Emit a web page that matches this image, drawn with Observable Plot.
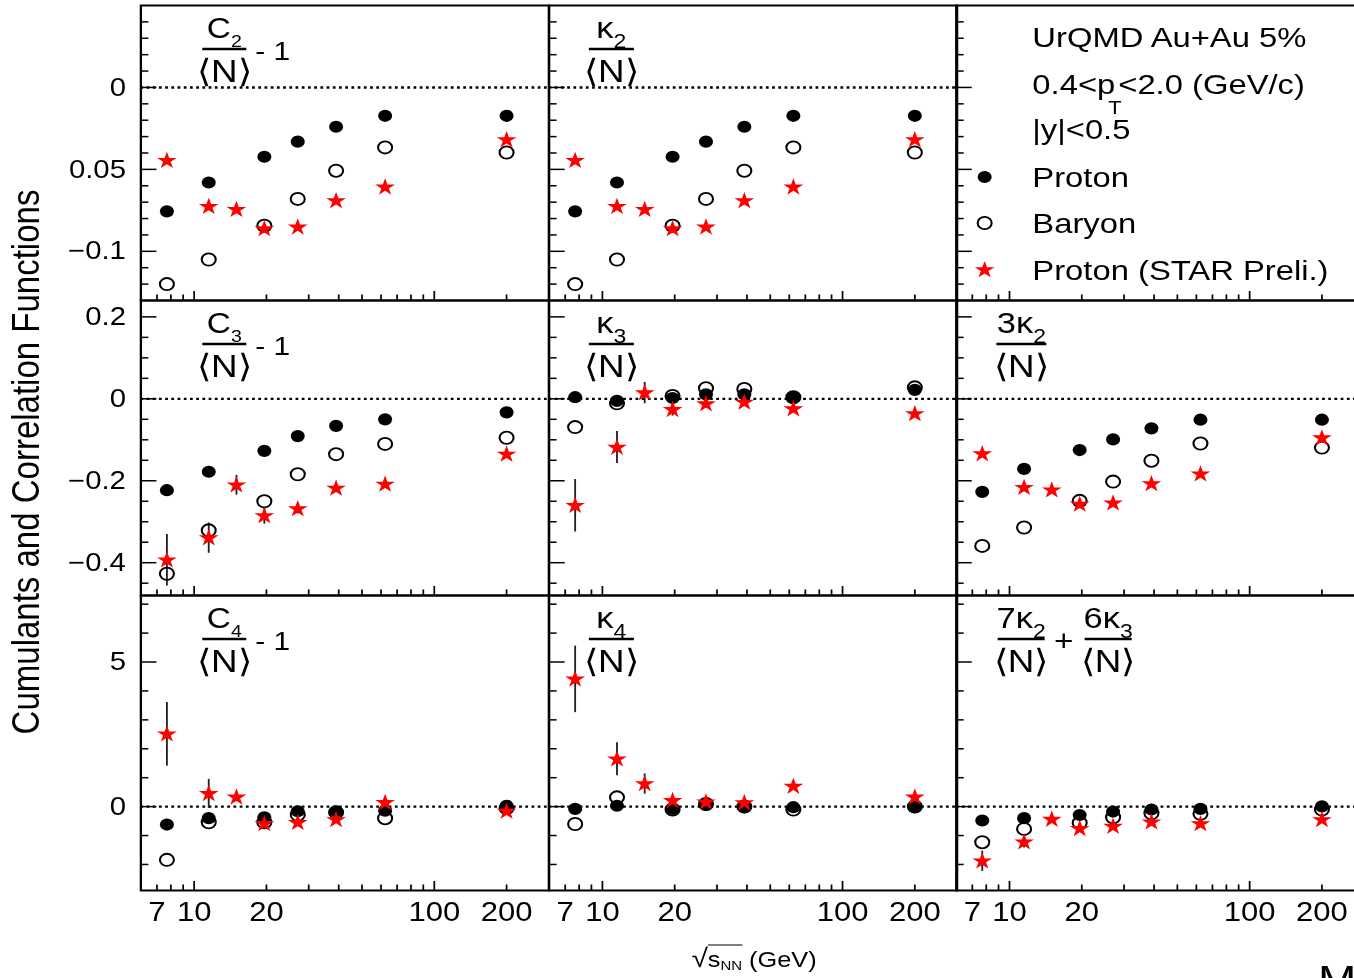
<!DOCTYPE html>
<html>
<head>
<meta charset="utf-8">
<script src="https://cdn.jsdelivr.net/npm/d3@7"></script>
<script src="https://cdn.jsdelivr.net/npm/@observablehq/plot@0.6"></script>
<style>
html, body { margin: 0; padding: 0; background: #fff; overflow: hidden; }
#wrap { position: relative; width: 1354px; height: 978px; overflow: hidden; background: #fff; }
#stage { position: absolute; left: 0; top: 0; width: 1200px; height: 978px; transform: scaleX(1.15); transform-origin: 0 0;
  font-family: "Liberation Sans", Arial, Helvetica, sans-serif; color: #000; }
.panel { position: absolute; }
.ytitle { position: absolute; white-space: nowrap; font-size: 33px; transform: translate(-50%, -50%) rotate(-90deg); }
.xtitle { position: absolute; white-space: nowrap; font-size: 22px; transform: translate(-50%, -50%); }
.xtitle .sq { font-size: 26px; }
.xtitle .ol { border-top: 1.6px solid #000; padding-top: 1px; }
.xtitle sub { font-size: 13px; vertical-align: -3px; }
.stray { position: absolute; font-size: 40px; line-height: 40px; white-space: nowrap; }
</style>
</head>
<body>
<div id="wrap"><div id="stage"></div></div>
<script>
// ---------------- data ----------------
const energies = [7.7, 11.5, 19.6, 27, 39, 62.4, 200];
const starEnergies = [7.7, 11.5, 15, 19.6, 27, 39, 62.4, 200];

// row 1: C2/<N> - 1  and  kappa2/<N>
const protonC2 = [-0.0756, -0.058, -0.0423, -0.0331, -0.024, -0.0173, -0.0173];
const baryonC2 = [-0.120, -0.105, -0.0844, -0.068, -0.0508, -0.0366, -0.0397];
const starC2 = [-0.0447, -0.0728, -0.0746, -0.0864, -0.0854, -0.0693, -0.061, -0.0321];
const starC2Err = [0.002, 0.002, 0.002, 0.002, 0.002, 0.002, 0.002, 0.002];

const protonK2 = [-0.0756, -0.058, -0.0423, -0.0331, -0.024, -0.0173, -0.0173];
const baryonK2 = [-0.120, -0.105, -0.0844, -0.068, -0.0508, -0.0366, -0.0397];
const starK2 = [-0.0447, -0.0728, -0.0746, -0.0864, -0.0854, -0.0693, -0.061, -0.0321];
const starK2Err = [0.002, 0.002, 0.002, 0.002, 0.002, 0.002, 0.002, 0.002];

// row 2: C3/<N> - 1, kappa3/<N>, 3 kappa2/<N>
const protonC3 = [-0.223, -0.178, -0.127, -0.091, -0.066, -0.050, -0.033];
const baryonC3 = [-0.427, -0.321, -0.250, -0.184, -0.135, -0.110, -0.095];
const starC3 = [-0.394, -0.340, -0.211, -0.286, -0.269, -0.219, -0.209, -0.136];
const starC3Err = [0.063, 0.037, 0.024, 0.02, 0.012, 0.01, 0.01, 0.008];

const protonK3 = [0.004, -0.005, 0.002, 0.011, 0.011, 0.003, 0.022];
const baryonK3 = [-0.069, -0.011, 0.007, 0.026, 0.024, 0.004, 0.028];
const starK3 = [-0.261, -0.119, 0.014, -0.027, -0.013, -0.009, -0.025, -0.037];
const starK3Err = [0.064, 0.039, 0.026, 0.015, 0.01, 0.008, 0.008, 0.006];

const proton3K2 = [-0.227, -0.171, -0.125, -0.099, -0.072, -0.051, -0.051];
const baryon3K2 = [-0.359, -0.314, -0.249, -0.202, -0.151, -0.109, -0.119];
const star3K2 = [-0.135, -0.217, -0.223, -0.258, -0.255, -0.208, -0.184, -0.096];
const star3K2Err = [0.006, 0.006, 0.006, 0.005, 0.005, 0.005, 0.005, 0.005];

// row 3: C4/<N> - 1, kappa4/<N>, 7 kappa2/<N> + 6 kappa3/<N>
const protonC4 = [-0.62, -0.40, -0.37, -0.16, -0.16, -0.14, 0.03];
const baryonC4 = [-1.84, -0.54, -0.54, -0.28, -0.20, -0.40, -0.05];
const starC4 = [2.5, 0.44, 0.32, -0.60, -0.56, -0.46, 0.13, -0.17];
const starC4Err = [1.1, 0.5, 0.15, 0.15, 0.1, 0.1, 0.08, 0.05];

const protonK4 = [-0.08, 0.03, -0.08, 0.06, -0.02, -0.02, -0.02];
const baryonK4 = [-0.60, 0.32, -0.10, 0.09, 0.0, -0.10, 0.0];
const starK4 = [4.4, 1.64, 0.78, 0.20, 0.15, 0.12, 0.69, 0.32];
const starK4Err = [1.15, 0.57, 0.35, 0.15, 0.1, 0.1, 0.08, 0.05];

const protonComb = [-0.48, -0.40, -0.29, -0.17, -0.10, -0.08, 0.01];
const baryonComb = [-1.23, -0.77, -0.56, -0.37, -0.23, -0.25, -0.10];
const starComb = [-1.89, -1.23, -0.45, -0.77, -0.69, -0.54, -0.60, -0.46];
const starCombErr = [0.35, 0.2, 0.08, 0.08, 0.06, 0.05, 0.05, 0.04];

// ticks
const xTickLabels = [7, 10, 20, 100, 200];
const xMajorTicks = [10, 100];
const xMinorTicks = [7, 8, 9, 20, 30, 40, 50, 60, 70, 80, 90, 200];
const xDomain = [6, 300];

const row1Domain = [-0.13, 0.05];
const row1Major = [0, -0.05, -0.1];
const row1Labels = ["0", "0.05", "\u22120.1"];
const row1Minor = [0.04, 0.03, 0.02, 0.01, -0.01, -0.02, -0.03, -0.04, -0.06, -0.07, -0.08, -0.09, -0.11, -0.12];

const row2Domain = [-0.48, 0.24];
const row2Major = [0.2, 0, -0.2, -0.4];
const row2Labels = ["0.2", "0", "\u22120.2", "\u22120.4"];
const row2Minor = [0.15, 0.1, 0.05, -0.05, -0.1, -0.15, -0.25, -0.3, -0.35, -0.45];

const row3Domain = [-2.9, 7.3];
const row3Major = [5, 0];
const row3Labels = ["5", "0"];
const row3Minor = [7, 6, 4, 3, 2, 1, -1, -2];

const legendHeader = ["UrQMD Au+Au 5%", "0.4<p", "T", "<2.0 (GeV/c)", "|y|<0.5"];
const legendNames = ["Proton", "Baryon", "Proton (STAR Preli.)"];
const yTitle = "Cumulants and Correlation Functions";

// ---------------- layout ----------------
const S = 1.15;               // horizontal stretch of the original picture
const PW = 408 / S, PH = 295;
const X0 = 140 / S, Y0 = 5;
const FONT = "'Liberation Sans', Arial, Helvetica, sans-serif";
const R_DOT = 6.1, R_STAR = 5.4;

const rows = [
  {domain: row1Domain, major: row1Major, labels: row1Labels, minor: row1Minor},
  {domain: row2Domain, major: row2Major, labels: row2Labels, minor: row2Minor},
  {domain: row3Domain, major: row3Major, labels: row3Labels, minor: row3Minor}
];

const C = (n) => ({type: "C", n});
const K = (pre, n) => ({type: "K", pre, n});
const panels = [
  {row: 0, col: 0, proton: protonC2, baryon: baryonC2, star: starC2, err: starC2Err, label: C("2")},
  {row: 0, col: 1, proton: protonK2, baryon: baryonK2, star: starK2, err: starK2Err, label: K("", "2")},
  {row: 0, col: 2, legend: true},
  {row: 1, col: 0, proton: protonC3, baryon: baryonC3, star: starC3, err: starC3Err, label: C("3")},
  {row: 1, col: 1, proton: protonK3, baryon: baryonK3, star: starK3, err: starK3Err, label: K("", "3")},
  {row: 1, col: 2, proton: proton3K2, baryon: baryon3K2, star: star3K2, err: star3K2Err, label: K("3", "2")},
  {row: 2, col: 0, proton: protonC4, baryon: baryonC4, star: starC4, err: starC4Err, label: C("4")},
  {row: 2, col: 1, proton: protonK4, baryon: baryonK4, star: starK4, err: starK4Err, label: K("", "4")},
  {row: 2, col: 2, proton: protonComb, baryon: baryonComb, star: starComb, err: starCombErr, label: {type: "comb"}}
];

const stage = document.getElementById("stage");

function buildPanel(p) {
  const rd = rows[p.row];
  const marks = [];
  if (!p.legend) marks.push(Plot.ruleY([0], {stroke: "#000", strokeWidth: 2.4, strokeDasharray: "2.4,3"}));
  marks.push(Plot.axisX({ticks: xMinorTicks, anchor: "bottom", tickSize: -5.5, tickFormat: () => "", label: null, strokeWidth: 1.5}));
  marks.push(Plot.axisX({ticks: xMajorTicks, anchor: "bottom", tickSize: -9, tickFormat: () => "", label: null, strokeWidth: 1.5}));
  marks.push(Plot.axisY({ticks: rd.minor, anchor: "left", tickSize: -7, tickFormat: () => "", label: null, strokeWidth: 1.5}));
  marks.push(Plot.axisY({ticks: rd.major, anchor: "left", tickSize: -14, tickFormat: () => "", label: null, strokeWidth: 1.5}));
  if (p.col === 0) marks.push(Plot.axisY({ticks: rd.major, anchor: "left", tickSize: 0, tickPadding: 13,
    tickFormat: (d) => rd.labels[rd.major.indexOf(d)], label: null, fontSize: 25.5}));
  if (p.row === 2) marks.push(Plot.text(xTickLabels, {x: (d) => d, frameAnchor: "bottom", dy: 31,
    text: (d) => String(d), fontSize: 27, textAnchor: "middle", fill: "#000"}));
  if (!p.legend) {
    const pr = energies.map((e, i) => ({e, v: p.proton[i]}));
    const ba = energies.map((e, i) => ({e, v: p.baryon[i]}));
    const st = starEnergies.map((e, i) => ({e, v: p.star[i], err: p.err[i]}));
    marks.push(Plot.ruleX(st, {x: "e", y1: (d) => d.v - d.err, y2: (d) => d.v + d.err, stroke: "#222", strokeWidth: 1.6}));
    marks.push(Plot.dot(ba, {x: "e", y: "v", r: R_DOT, stroke: "#000", strokeWidth: 1.8, fill: "none"}));
    marks.push(Plot.dot(pr, {x: "e", y: "v", r: R_DOT, fill: "#000", stroke: "none"}));
    marks.push(Plot.dot(st, {x: "e", y: "v", symbol: "star", r: R_STAR, fill: "#ff0000", stroke: "none"}));
  }
  marks.push(Plot.frame({stroke: "#000", strokeWidth: 2}));
  return Plot.plot({
    width: PW, height: PH, margin: 0,
    x: {type: "log", domain: xDomain},
    y: {domain: rd.domain},
    style: {overflow: "visible", background: "transparent", fontFamily: FONT, fontSize: "25.5px", color: "#000"},
    marks
  });
}

function drawFrac(g, cxRef, wRef, num) {
  const cx = cxRef / S, w = wRef / S;
  const t = g.append("text").attr("x", cx).attr("y", 33).attr("text-anchor", "middle");
  let prev = 0;
  num.forEach((s) => {
    const dy = s.dy || 0;
    t.append("tspan").attr("font-size", s.fs).attr("dy", dy - prev).text(s.t);
    prev = dy;
  });
  g.append("line").attr("x1", cx - w / 2).attr("x2", cx + w / 2).attr("y1", 44).attr("y2", 44)
    .attr("stroke", "#000").attr("stroke-width", 2.5);
  g.append("text").attr("x", cx).attr("y", 77).attr("text-anchor", "middle").attr("font-size", 32).text("\u27E8N\u27E9");
}

function addLabel(svg, p) {
  const g = d3.select(svg).append("g").attr("font-family", FONT).attr("fill", "#000").attr("text-anchor", "start");
  const L = p.label;
  if (L.type === "C") {
    drawFrac(g, 84, 44, [{t: "C", fs: 29}, {t: L.n, fs: 17, dy: 9}]);
    g.append("text").attr("x", 115 / S).attr("y", 55).attr("font-size", 26).attr("text-anchor", "start")
      .style("white-space", "pre").text("- 1");
  } else if (L.type === "K") {
    const cx = L.pre ? 65.7 : 62.8, w = L.pre ? 50 : 45;
    drawFrac(g, cx, w, [{t: L.pre + "\u03BA", fs: 30}, {t: L.n, fs: 20, dy: 10}]);
  } else {
    drawFrac(g, 65.5, 47, [{t: "7\u03BA", fs: 30}, {t: "2", fs: 20, dy: 10}]);
    g.append("text").attr("x", 108 / S).attr("y", 56).attr("text-anchor", "middle").attr("font-size", 29).text("+");
    drawFrac(g, 152.5, 47, [{t: "6\u03BA", fs: 30}, {t: "3", fs: 20, dy: 10}]);
  }
}

function addLegend(svg) {
  const g = d3.select(svg).append("g").attr("font-family", FONT).attr("fill", "#000")
    .attr("font-size", 28.5).attr("text-anchor", "start");
  const tx = 76.7 / S;
  g.append("text").attr("x", tx).attr("y", 42).text(legendHeader[0]);
  const t2 = g.append("text").attr("x", tx).attr("y", 89);
  t2.append("tspan").text(legendHeader[1]);
  t2.append("tspan").attr("font-size", 19).attr("dx", -6).attr("dy", 20).text(legendHeader[2]);
  t2.append("tspan").attr("dx", -3).attr("dy", -20).text(legendHeader[3]);
  g.append("text").attr("x", tx).attr("y", 134).text(legendHeader[4]);
  const ys = [172, 218, 265];
  const mx = 29 / S;
  g.append("circle").attr("cx", mx).attr("cy", ys[0]).attr("r", R_DOT).attr("fill", "#000");
  g.append("circle").attr("cx", mx).attr("cy", ys[1]).attr("r", R_DOT).attr("fill", "none").attr("stroke", "#000").attr("stroke-width", 1.8);
  g.append("path").attr("transform", `translate(${mx},${ys[2]})`)
    .attr("d", d3.symbol(d3.symbolStar, Math.PI * R_STAR * R_STAR)()).attr("fill", "#ff0000");
  legendNames.forEach((n, i) => g.append("text").attr("x", tx).attr("y", ys[i] + 10).text(n));
}

panels.forEach((p) => {
  const svg = buildPanel(p);
  if (p.legend) addLegend(svg); else addLabel(svg, p);
  const div = document.createElement("div");
  div.className = "panel";
  div.style.left = (X0 + p.col * PW) + "px";
  div.style.top = (Y0 + p.row * PH) + "px";
  div.appendChild(svg);
  stage.appendChild(div);
});

// axis titles
const yt = document.createElement("div");
yt.className = "ytitle";
yt.style.left = (27 / S) + "px";
yt.style.top = "462px";
yt.textContent = yTitle;
stage.appendChild(yt);

const xt = document.createElement("div");
xt.className = "xtitle";
xt.style.left = (754 / S) + "px";
xt.style.top = "958px";
xt.innerHTML = '<span class="sq">\u221A</span><span class="ol">s<sub>NN</sub></span> (GeV)';
stage.appendChild(xt);

const stray = document.createElement("div");
stray.className = "stray";
stray.style.left = (1318 / S) + "px";
stray.style.top = "960px";
stray.textContent = "M";
stage.appendChild(stray);
</script>
</body>
</html>
